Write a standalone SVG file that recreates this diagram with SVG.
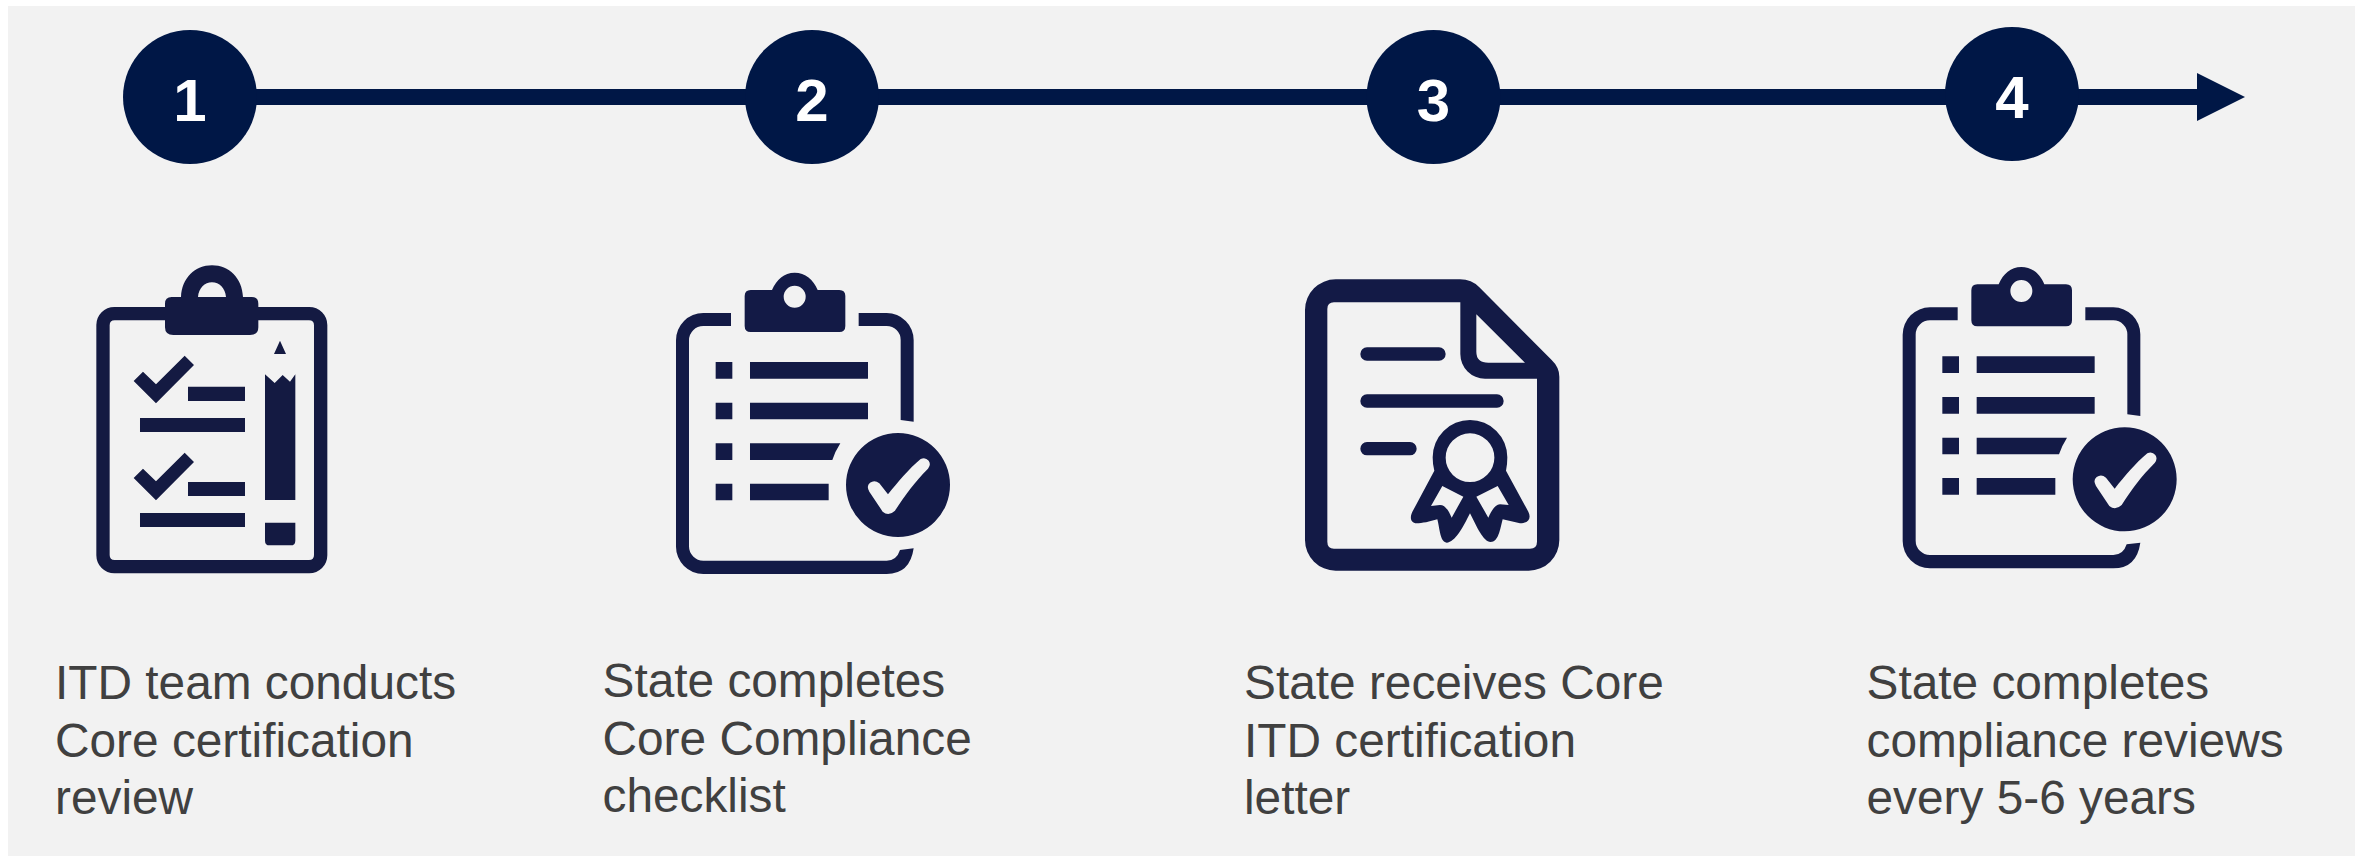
<svg xmlns="http://www.w3.org/2000/svg" width="2359" height="858" viewBox="0 0 2359 858">
<style>
.t{font-family:"Liberation Sans",Arial,sans-serif;font-size:47.8px;fill:#404040}
.n{font-family:"Liberation Sans",Arial,sans-serif;font-size:60px;font-weight:700;fill:#fff;text-anchor:middle}
.c{fill:#001746}
.i{fill:#141a42;fill-rule:evenodd}
.j{fill:#131a46;fill-rule:evenodd}
.s{fill:none;stroke:#131a46;stroke-linecap:round}
</style>
<defs>
<g id="checklist">
<path class="j" d="M243 189H160A82 82 0 0 0 78 271V890A82 82 0 0 0 160 972H710Q780 972 791 895L750 900Q740 932 710 932H160A43 43 0 0 1 117 889V271A43 43 0 0 1 160 228H243ZM626 189H710A81 81 0 0 1 791 270V515L752 510V270A42 42 0 0 0 710 228H626Z"/>
<path class="j" d="M298 120H366C380 88 402 68 434 68C466 68 490 88 503 120H568Q586 120 586 138V228Q586 246 568 246H302Q284 246 284 228V138Q284 120 302 120ZM434 107A33 33 0 1 0 434.1 173A33 33 0 1 0 434 107Z"/>
<path class="j" d="M197 336H247V386H197ZM300 336H654V386H300ZM197 458H247V508H197ZM300 458H654V508H300ZM197 580H247V630H197ZM300 580H571Q555 605 547 630H300ZM197 701H247V751H197ZM300 701H536V751H300Z"/>
<path class="j" d="M744 549A156 156 0 1 0 744.1 861A156 156 0 1 0 744 549ZM812 627Q826 620 836 632Q844 644 834 656C795 695 765 735 735 782Q716 800 698 785L658 725Q648 708 660 698Q674 688 688 700L714 733C745 695 775 658 812 627Z"/>
</g>
</defs>
<rect x="8" y="6" width="2347" height="850" fill="#f2f2f2"/>
<g id="connectors">
<rect class="c" x="190" y="89" width="2008" height="16"/>
<path class="c" d="M2197 73L2245 97L2197 121Z"/>
</g>
<g id="step1">
<circle class="c" cx="190" cy="97" r="67"/><text class="n" x="190" y="121">1</text>
<g transform="translate(60 240) scale(.33333)">
<path class="i" d="M163 201H315V191Q315 171 335 171H363C365 115 405 76 456 76C507 76 547 115 549 171H575Q595 171 595 191V201H748A54 54 0 0 1 802 255V946A54 54 0 0 1 748 1000H163A54 54 0 0 1 109 946V255A54 54 0 0 1 163 201ZM595 241V262Q595 285 570 285H340Q315 285 315 262V241H164Q149 241 149 256V945Q149 960 164 960H747Q762 960 762 945V256Q762 241 747 241ZM414 171H498C496 145 478 127 456 127C434 127 416 145 414 171Z"/>
<path class="i" d="M221 423L249 395L288 433L374 347L402 375L288 490ZM384 440H555V483H384ZM240 534H555V576H240ZM221 714L249 686L288 724L374 638L402 666L288 781ZM384 726H555V768H384ZM240 819H555V861H240Z"/>
<path class="i" d="M660 302L678 342H642ZM615 403L644 429L668 405L690 425L706 403V780H615ZM615 848H706V902Q706 916 692 916H629Q615 916 615 902Z"/>
</g>
<text class="t"><tspan x="55" y="698.5">ITD team conducts</tspan><tspan x="55" y="756.5">Core certification</tspan><tspan x="55" y="813.5">review</tspan></text>
</g>
<g id="step2">
<circle class="c" cx="812" cy="97" r="67"/><text class="n" x="812" y="121">2</text>
<use href="#checklist" transform="translate(650 250) scale(.33333)"/>
<text class="t"><tspan x="602.5" y="696.5">State completes</tspan><tspan x="602.5" y="754.5">Core Compliance</tspan><tspan x="602.5" y="811.5">checklist</tspan></text>
</g>
<g id="step3">
<circle class="c" cx="1433.5" cy="97" r="67"/><text class="n" x="1433.5" y="121">3</text>
<g transform="translate(1280 260) scale(.33333)">
<path class="j" d="M165 58H540Q575 58 598 82L815 300Q838 322 838 350V840A92 92 0 0 1 746 932H167A92 92 0 0 1 75 840V150A92 92 0 0 1 167 58ZM162 127Q142 127 142 147V845Q142 866 162 866H750Q771 866 771 845V356H615A74 74 0 0 1 541 282V127ZM589 163V275Q589 308 625 308H735Z"/>
<path class="s" stroke-width="40" d="M261 282H477M261 423H651M261 566H390"/>
<path class="j" d="M570 480A112 112 0 0 1 682 592Q682 615 678 632L745 755C755 775 745 790 720 790L668 778C660 810 655 846 632 846C610 846 590 800 570 760C550 800 525 848 500 848C480 845 480 810 472 778C450 785 425 790 410 790C390 788 388 770 400 750L463 632Q458 615 458 592A112 112 0 0 1 570 480ZM570 520A73 73 0 1 0 570.1 666A73 73 0 1 0 570 520ZM487 678L453 738L480 735C495 735 505 750 515 773L550 710ZM653 678L589 710L625 773C635 750 645 735 660 733L686 735Z"/>
</g>
<text class="t"><tspan x="1244" y="699">State receives Core</tspan><tspan x="1244" y="757">ITD certification</tspan><tspan x="1244" y="814">letter</tspan></text>
</g>
<g id="step4">
<circle class="c" cx="2012" cy="94" r="67"/><text class="n" x="2012" y="118">4</text>
<use href="#checklist" transform="translate(1876.67 244.33) scale(.33333)"/>
<text class="t"><tspan x="1866.5" y="699">State completes</tspan><tspan x="1866.5" y="757">compliance reviews</tspan><tspan x="1866.5" y="814">every 5-6 years</tspan></text>
</g>
</svg>
